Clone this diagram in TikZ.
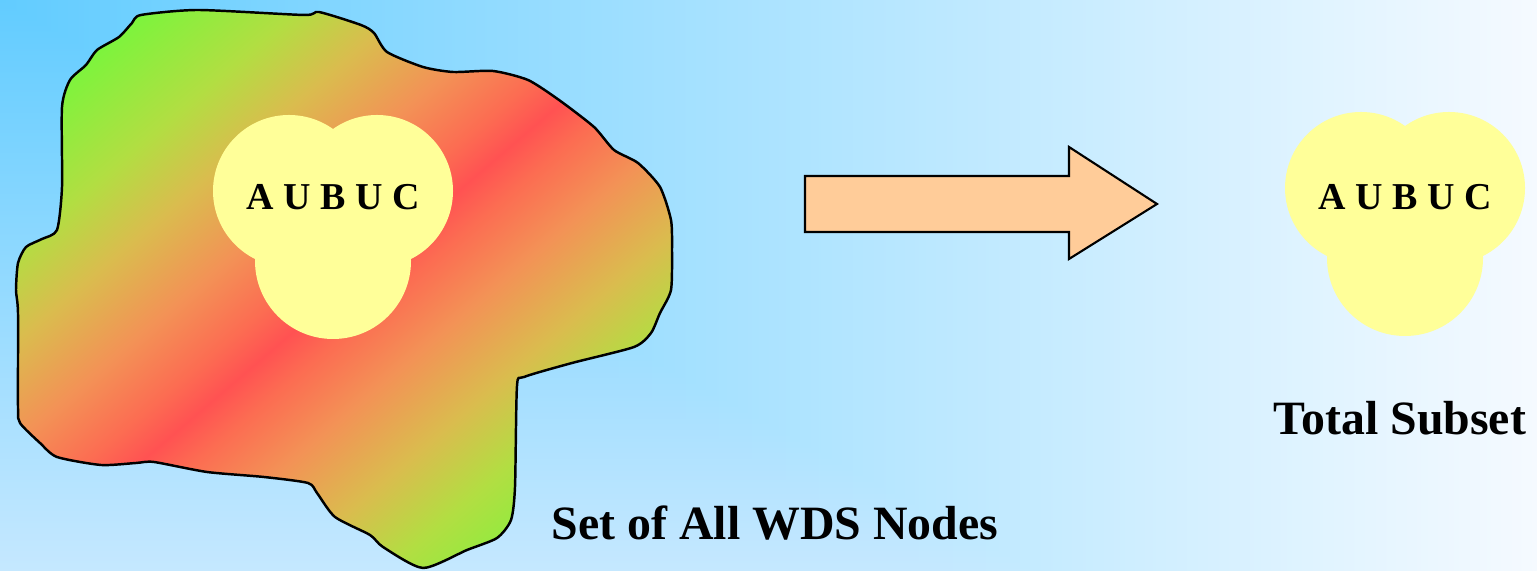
\documentclass[tikz,border=0pt]{standalone}
\usepackage{fontspec}
\setmainfont{Liberation Serif}

\definecolor{skytop}{RGB}{98,204,255}
\definecolor{skyright}{RGB}{245,250,255}
\definecolor{skybottom}{RGB}{197,232,255}
\definecolor{setgreen}{RGB}{122,245,60}
\definecolor{setlime}{RGB}{178,222,66}
\definecolor{setolive}{RGB}{218,188,78}
\definecolor{setorange}{RGB}{243,146,86}
\definecolor{setcoral}{RGB}{252,108,82}
\definecolor{setred}{RGB}{255,82,82}
\definecolor{unionyellow}{RGB}{255,255,153}
\definecolor{arrowfill}{RGB}{255,204,153}

% green - orange - red - orange - green, hue by hue
\pgfdeclareverticalshading{wdsshade}{100bp}{
  color(0bp)=(setgreen); color(25bp)=(setgreen); color(32.5bp)=(setlime);
  color(37.5bp)=(setolive); color(43bp)=(setorange); color(47.5bp)=(setcoral);
  color(50bp)=(setred);
  color(52.5bp)=(setcoral); color(57bp)=(setorange); color(62.5bp)=(setolive);
  color(67.5bp)=(setlime); color(75bp)=(setgreen); color(100bp)=(setgreen)}

\begin{document}
\begin{tikzpicture}[x=0.01cm, y=-0.01cm,
  outline/.style={draw=black, line width=0.7pt, line join=round},
  setlabel/.style={font=\fontsize{13.6}{16}\selectfont\bfseries, inner sep=0pt, anchor=base},
  unionlabel/.style={font=\fontsize{10.8}{13}\selectfont\bfseries, inner sep=0pt, anchor=base},
  union/.pic={\fill[unionyellow] (-44,-7) circle[radius=76] (44,-7) circle[radius=76] (0,63) circle[radius=78];}]

% background: two sky shadings, the lighter one wins
\useasboundingbox (0,0) rectangle (1537,571);
\shade[left color=skytop, right color=skyright] (0,0) rectangle (1537,571);
\begin{scope}[blend mode=lighten]
  \shade[top color=skytop, bottom color=skybottom] (0,0) rectangle (1537,571);
\end{scope}

% the set of all nodes
\path[save path=\wdsoutline]
  plot[smooth cycle, tension=0.4] coordinates {
    (141,15) (198,10) (304,15) (319,12) (361,25) (374,33) (387,52) (423,67)
    (453,72) (493,71) (528,80) (559,100) (594,127) (614,150) (638,163) (660,187)
    (671,220) (672,250) (671,290) (660,313) (651,333) (634,347) (572,363) (524,377)
    (517,386) (515,487) (511,520) (497,538) (467,550) (423,568) (383,547) (370,535)
    (335,517) (317,493) (308,483) (264,477) (207,472) (154,462) (136,463) (101,465)
    (57,457) (40,443) (20,423) (18,407) (18,313) (16,290) (18,263) (26,247)
    (42,239) (57,230) (62,187) (62,107) (70,80) (86,65) (97,50) (119,37) (132,23)};
% red band across the diagonal
\begin{scope}
  \clip[use path=\wdsoutline];
  \shade[transform canvas={rotate around={40.5:(343,289)}}, shading=wdsshade]
    (-177,-56) rectangle (863,634);
\end{scope}
\draw[outline, use path=\wdsoutline];

% A U B U C inside and on its own
\pic at (333,198) {union};
\pic at (1405,195) {union};
\node[unionlabel] (lunion) at (333,210) {A U B U C};
\node[unionlabel] (runion) at (1405,210) {A U B U C};

% block arrow
\draw[outline, fill=arrowfill, line width=0.6pt, line join=miter]
  (805,176) -- (1069,176) -- (1069,147) -- (1157,204) -- (1069,259) -- (1069,232) -- (805,232) -- cycle;

\node[setlabel] (allnodes) at (775,540) {Set of All WDS Nodes};
\node[setlabel] (subset) at (1400,435) {Total Subset};
\end{tikzpicture}
\end{document}
